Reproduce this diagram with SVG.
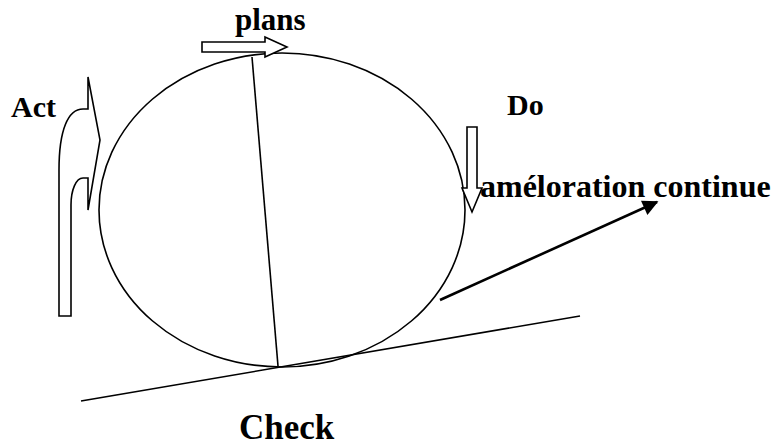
<svg xmlns="http://www.w3.org/2000/svg" width="775" height="448" viewBox="0 0 775 448">
  <defs>
    <marker id="head" viewBox="0 0 10 10" refX="9" refY="5" markerWidth="7" markerHeight="6" markerUnits="strokeWidth" orient="auto">
      <path d="M0,0 L10,5 L0,10 Z" fill="#000"/>
    </marker>
    <style>
      .ln { fill: none; stroke: #000; stroke-width: 1.6; }
      .blk { fill: #fff; stroke: #000; stroke-width: 1.6; stroke-linejoin: miter; }
    </style>
  </defs>
  <rect width="775" height="448" fill="#fff"/>

  <!-- cycle wheel with its diameter -->
  <g id="wheel">
    <ellipse class="ln" cx="282" cy="210" rx="183" ry="157"/>
    <line class="ln" x1="252" y1="57" x2="278" y2="366"/>
  </g>

  <!-- slope the wheel rests on -->
  <g id="slope">
    <line class="ln" x1="81" y1="401" x2="580" y2="316"/>
  </g>

  <g font-family="Liberation Serif, DejaVu Serif, serif" font-weight="bold" font-size="30" fill="#000">
    <g id="plans">
      <path class="blk" d="M202,42 L265,42 L265,37 L287,47 L265,57 L265,52 L202,52 Z"/>
      <text x="235" y="30" font-size="31">plans</text>
    </g>

    <g id="act">
      <path class="blk" d="M59,316 L59,170 C59,130 68,109 83,109 L88,109 L88,77 L100,140 L88,210 L88,178 L83,178 C76,178 71,190 71,205 L71,316 Z"/>
      <text x="11" y="117">Act</text>
    </g>

    <g id="do">
      <path class="blk" d="M467,127 L477,127 L477,188 L482,188 L472,212 L462,188 L467,188 Z"/>
      <text x="507" y="115">Do</text>
    </g>

    <g id="improvement">
      <text x="480" y="197" font-size="32">améloration continue</text>
    </g>

    <g id="check">
      <text x="239" y="439" font-size="35">Check</text>
    </g>
  </g>

  <g id="connectors">
    <line x1="440" y1="300" x2="657" y2="202" stroke="#000" stroke-width="2.6" marker-end="url(#head)"/>
  </g>
</svg>
